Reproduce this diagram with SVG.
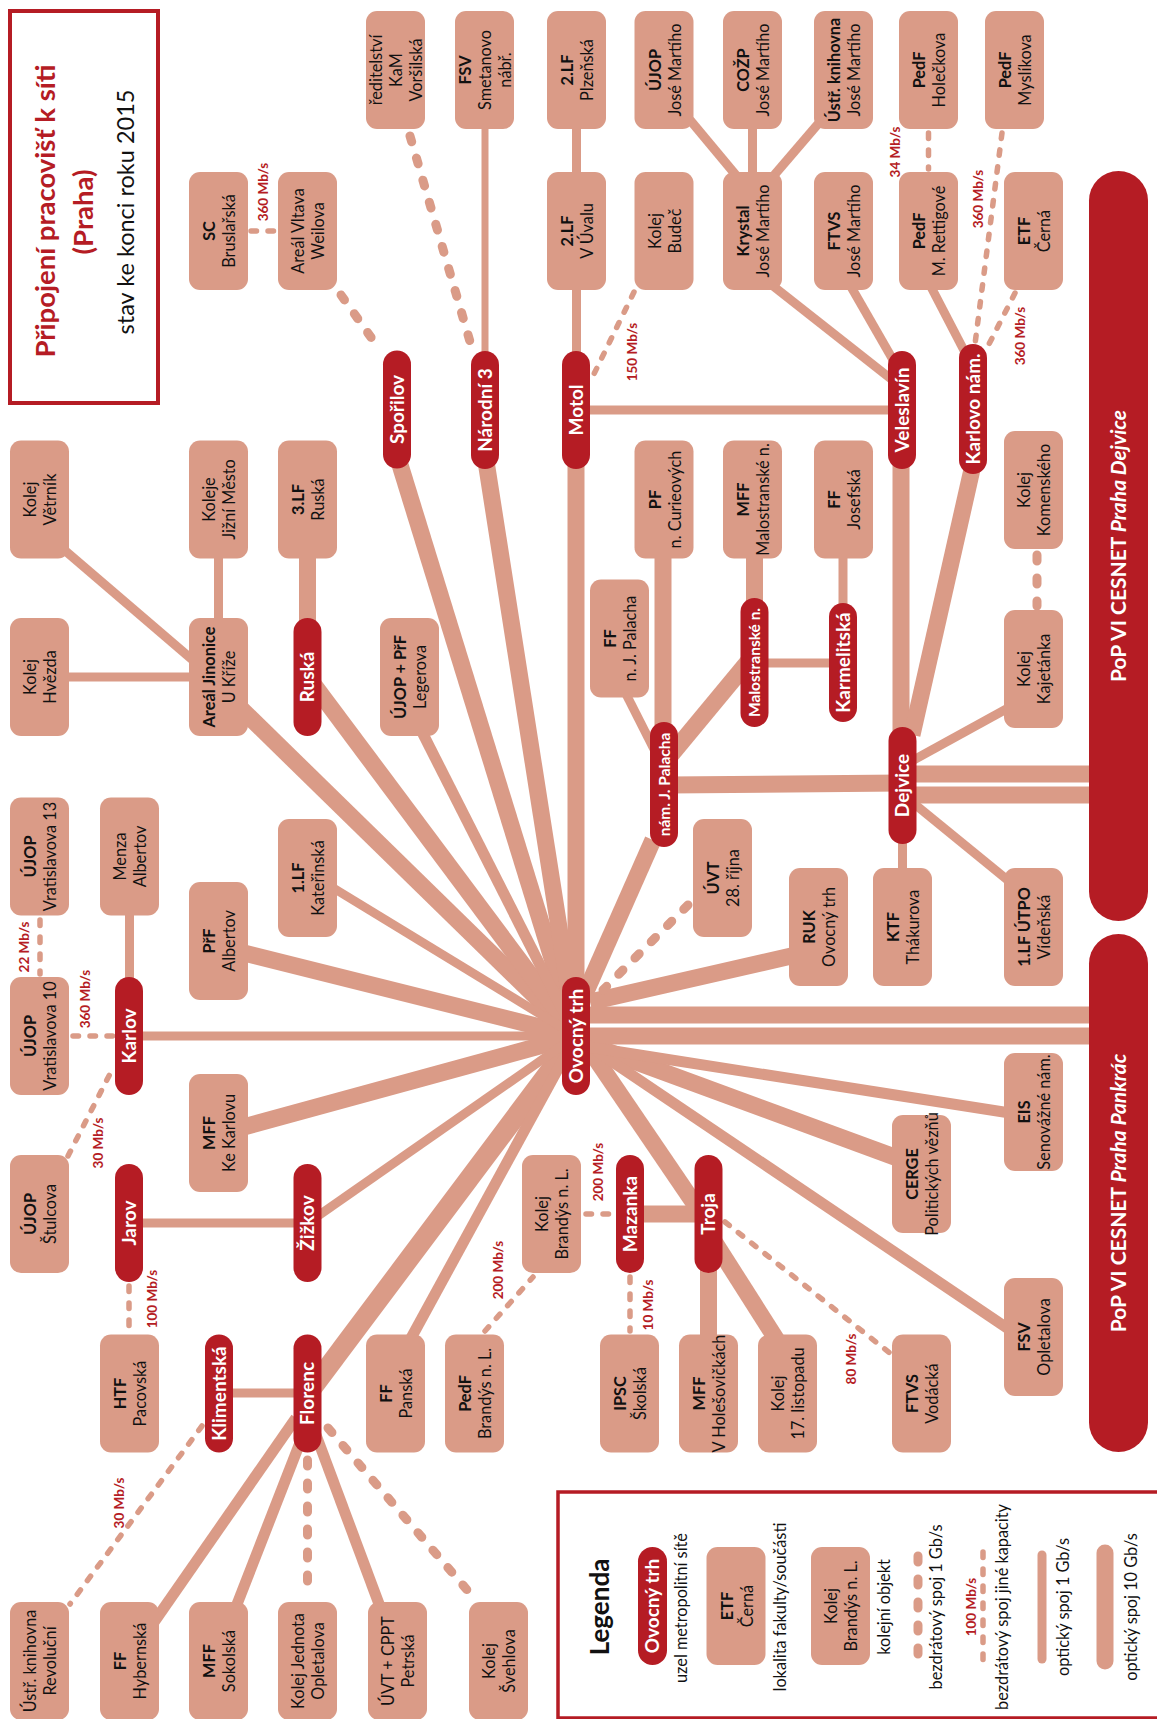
<svg xmlns="http://www.w3.org/2000/svg" width="1157" height="1719" viewBox="0 0 1157 1719">
<style>
.box{fill:#DA9B87}
.pill{fill:#B51C24}
text{font-family:Lato,"Liberation Sans","Noto Sans",sans-serif}
.t{font-size:16.3px;fill:#111;text-anchor:middle}
.b{font-weight:700}
.pt{font-size:19px;font-weight:700;fill:#fff;text-anchor:middle}
.ps{font-size:15.5px}
.lb{font-size:13.5px;font-weight:700;fill:#B51C24;text-anchor:middle}
.lt{font-size:16.3px;fill:#111;text-anchor:middle}
.c line{stroke:#DA9B87;fill:none}
.s0{stroke-width:7}
.s1{stroke-width:9}
.s2{stroke-width:11}
.s3{stroke-width:17}
.s4{stroke-width:20}
.d1{stroke-width:9;stroke-dasharray:6 17;stroke-linecap:round}
.d2{stroke-width:5.5;stroke-dasharray:5.5 11.5;stroke-linecap:round}
</style>
<rect width="1157" height="1719" fill="#fff"/>

<g id="title">
<rect x="10" y="11" width="148" height="392" fill="none" stroke="#B51C24" stroke-width="4"/>
<text transform="translate(55,211) rotate(-90)" style="font-size:27.5px;font-weight:700;fill:#B51C24;text-anchor:middle">Připojení pracovišť k síti</text>
<text transform="translate(93,212) rotate(-90)" style="font-size:27.5px;font-weight:700;fill:#B51C24;text-anchor:middle">(Praha)</text>
<text transform="translate(134,212) rotate(-90)" style="font-size:23.5px;fill:#111;text-anchor:middle">stav ke konci roku 2015</text>
</g>

<g id="connectors" class="c">
<g class="s3">
<line x1="397" y1="455" x2="576" y2="1036"/>
<line x1="485" y1="455" x2="576" y2="1036"/>
<line x1="576" y1="455" x2="576" y2="1036"/>
<line x1="230" y1="698" x2="576" y2="1036"/>
<line x1="314" y1="685" x2="576" y2="1036"/>
<line x1="240" y1="952" x2="576" y2="1036"/>
<line x1="240" y1="1128" x2="576" y2="1036"/>
<line x1="653" y1="840" x2="576" y2="1014"/>
<line x1="590" y1="1002" x2="800" y2="954"/>
<line x1="590" y1="1045" x2="900" y2="1159"/>
<line x1="583" y1="1040" x2="700" y2="1212"/>
<line x1="585" y1="1015" x2="1100" y2="1015"/>
<line x1="585" y1="1036" x2="1100" y2="1036"/>
<line x1="307.5" y1="555" x2="307.5" y2="622"/>
<line x1="663" y1="555" x2="663" y2="726"/>
<line x1="754.5" y1="555" x2="754.5" y2="602"/>
<line x1="752" y1="657" x2="670" y2="756"/>
<line x1="668" y1="785" x2="902" y2="783"/>
<line x1="902" y1="774" x2="1100" y2="774"/>
<line x1="902" y1="795" x2="1100" y2="795"/>
<line x1="901" y1="460" x2="901" y2="735"/>
<line x1="973" y1="465" x2="912" y2="735"/>
<line x1="630" y1="1214" x2="708" y2="1214"/>
<line x1="708.5" y1="1265" x2="708.5" y2="1340"/>
<line x1="710" y1="1235" x2="780" y2="1345"/>
</g>
<line class="s4" x1="310" y1="1391" x2="576" y2="1036"/>
<g class="s1">
<line x1="62" y1="548" x2="195" y2="662"/>
<line x1="218.5" y1="555" x2="218.5" y2="622"/>
<line x1="65" y1="677" x2="195" y2="677"/>
<line x1="576.5" y1="125" x2="576.5" y2="176"/>
<line x1="576.5" y1="286" x2="576.5" y2="355"/>
<line x1="580" y1="410" x2="900" y2="410"/>
<line x1="690" y1="120" x2="740" y2="180"/>
<line x1="752.5" y1="125" x2="752.5" y2="176"/>
<line x1="818" y1="124" x2="770" y2="180"/>
<line x1="768" y1="282" x2="900" y2="386"/>
<line x1="850" y1="285" x2="900" y2="372"/>
<line x1="930" y1="285" x2="970" y2="362"/>
<line x1="330" y1="886" x2="576" y2="1036"/>
<line x1="135" y1="1036" x2="576" y2="1036"/>
<line x1="315" y1="1218" x2="576" y2="1036"/>
<line x1="129.5" y1="912" x2="129.5" y2="981"/>
<line x1="129" y1="1223" x2="307" y2="1223"/>
<line x1="219" y1="1393" x2="307" y2="1393"/>
<line x1="625" y1="692" x2="662" y2="765"/>
<line x1="843" y1="555" x2="843" y2="607"/>
<line x1="754" y1="663" x2="843" y2="663"/>
<line x1="910" y1="762" x2="1010" y2="707"/>
<line x1="902.5" y1="840" x2="902.5" y2="872"/>
<line x1="912" y1="802" x2="1010" y2="882"/>
</g>
<line class="s0" x1="485" y1="125" x2="485" y2="355"/>
<g class="s2">
<line x1="420" y1="728" x2="576" y2="1036"/>
<line x1="410" y1="1340" x2="576" y2="1036"/>
<line x1="580" y1="1040" x2="1010" y2="1330"/>
<line x1="576" y1="1045" x2="1010" y2="1113"/>
<line x1="296" y1="1418" x2="152" y2="1625"/>
<line x1="303" y1="1435" x2="234" y2="1612"/>
<line x1="316" y1="1435" x2="382" y2="1612"/>
</g>
<g class="d1">
<line x1="410" y1="136" x2="471" y2="345"/>
<line x1="341" y1="295" x2="380" y2="350"/>
<line x1="688" y1="905" x2="603" y2="990"/>
<line x1="1037" y1="555" x2="1037" y2="606"/>
<line x1="307.5" y1="1460" x2="307.5" y2="1598"/>
<line x1="328" y1="1428" x2="474" y2="1598"/>
</g>
<g class="d2">
<line x1="251" y1="231" x2="276" y2="231"/>
<line x1="634" y1="292" x2="592" y2="378"/>
<line x1="928.5" y1="133" x2="928.5" y2="169"/>
<line x1="1002" y1="133" x2="975" y2="344"/>
<line x1="1015" y1="293" x2="986" y2="350"/>
<line x1="40" y1="920" x2="40" y2="974"/>
<line x1="73" y1="1036" x2="113" y2="1036"/>
<line x1="68" y1="1156" x2="113" y2="1068"/>
<line x1="129" y1="1286" x2="129" y2="1331"/>
<line x1="485" y1="1331" x2="533" y2="1277"/>
<line x1="586" y1="1214" x2="614" y2="1214"/>
<line x1="630" y1="1277" x2="630" y2="1331"/>
<line x1="725" y1="1222" x2="891" y2="1354"/>
<line x1="202" y1="1426" x2="70" y2="1604"/>
</g>
</g>

<g id="labels">
<text class="lb" transform="translate(267.5,192) rotate(-90)">360 Mb/s</text>
<text class="lb" transform="translate(637,352) rotate(-90)">150 Mb/s</text>
<text class="lb" transform="translate(900,152) rotate(-90)">34 Mb/s</text>
<text class="lb" transform="translate(983,199) rotate(-90)">360 Mb/s</text>
<text class="lb" transform="translate(1025,336) rotate(-90)">360 Mb/s</text>
<text class="lb" transform="translate(29,947) rotate(-90)">22 Mb/s</text>
<text class="lb" transform="translate(90,999) rotate(-90)">360 Mb/s</text>
<text class="lb" transform="translate(103,1143) rotate(-90)">30 Mb/s</text>
<text class="lb" transform="translate(157,1299) rotate(-90)">100 Mb/s</text>
<text class="lb" transform="translate(503,1270) rotate(-90)">200 Mb/s</text>
<text class="lb" transform="translate(603,1172) rotate(-90)">200 Mb/s</text>
<text class="lb" transform="translate(653,1305) rotate(-90)">10 Mb/s</text>
<text class="lb" transform="translate(856,1359) rotate(-90)">80 Mb/s</text>
<text class="lb" transform="translate(124,1503) rotate(-90)">30 Mb/s</text>
</g>

<g id="pops">
<g id="pop-dejvice"><rect class="pill" x="1089" y="171" width="59" height="750" rx="29.5"/><text class="pt" style="font-size:21px" transform="translate(1126,546) rotate(-90)">PoP VI CESNET <tspan font-style="italic">Praha Dejvice</tspan></text></g>
<g id="pop-pankrac"><rect class="pill" x="1089" y="934" width="59" height="518" rx="29.5"/><text class="pt" style="font-size:21px" transform="translate(1126,1193) rotate(-90)">PoP VI CESNET <tspan font-style="italic">Praha Pankrác</tspan></text></g>
</g>

<g id="pills">
<g id="p-sporilov" transform="translate(397,409.5)"><rect class="pill" x="-14" y="-59" width="28" height="118" rx="14"/><text class="pt" transform="rotate(-90)" y="6.5">Spořilov</text></g>
<g id="p-narodni" transform="translate(485,410)"><rect class="pill" x="-14" y="-59" width="28" height="118" rx="14"/><text class="pt" transform="rotate(-90)" y="6.5">Národní 3</text></g>
<g id="p-motol" transform="translate(576,410)"><rect class="pill" x="-14" y="-59" width="28" height="118" rx="14"/><text class="pt" transform="rotate(-90)" y="6.5">Motol</text></g>
<g id="p-veleslavin" transform="translate(902,410)"><rect class="pill" x="-14" y="-59" width="28" height="118" rx="14"/><text class="pt" transform="rotate(-90)" y="6.5">Veleslavín</text></g>
<g id="p-karlovo" transform="translate(973,409)"><rect class="pill" x="-14" y="-65" width="28" height="130" rx="14"/><text class="pt" transform="rotate(-90)" y="6.5">Karlovo nám.</text></g>
<g id="p-malostranske" transform="translate(754.5,662.5)"><rect class="pill" x="-14" y="-64.5" width="28" height="129" rx="14"/><text class="pt ps" transform="rotate(-90)" y="5.5">Malostranské n.</text></g>
<g id="p-karmelitska" transform="translate(843,662.5)"><rect class="pill" x="-14" y="-59.5" width="28" height="119" rx="14"/><text class="pt" transform="rotate(-90)" y="6.5">Karmelitská</text></g>
<g id="p-ruska" transform="translate(307.5,677)"><rect class="pill" x="-14" y="-59" width="28" height="118" rx="14"/><text class="pt" transform="rotate(-90)" y="6.5">Ruská</text></g>
<g id="p-palacha" transform="translate(664,784.5)"><rect class="pill" x="-14" y="-62.5" width="28" height="125" rx="14"/><text class="pt ps" transform="rotate(-90)" y="5.5">nám. J. Palacha</text></g>
<g id="p-dejvice" transform="translate(902.5,785.5)"><rect class="pill" x="-14" y="-58.5" width="28" height="117" rx="14"/><text class="pt" transform="rotate(-90)" y="6.5">Dejvice</text></g>
<g id="p-karlov" transform="translate(129,1036)"><rect class="pill" x="-14" y="-59" width="28" height="118" rx="14"/><text class="pt" transform="rotate(-90)" y="6.5">Karlov</text></g>
<g id="p-ovocny" transform="translate(576,1036)"><rect class="pill" x="-14" y="-59" width="28" height="118" rx="14"/><text class="pt" transform="rotate(-90)" y="6.5">Ovocný trh</text></g>
<g id="p-jarov" transform="translate(129,1223)"><rect class="pill" x="-14" y="-59" width="28" height="118" rx="14"/><text class="pt" transform="rotate(-90)" y="6.5">Jarov</text></g>
<g id="p-zizkov" transform="translate(307.5,1223)"><rect class="pill" x="-14" y="-59" width="28" height="118" rx="14"/><text class="pt" transform="rotate(-90)" y="6.5">Žižkov</text></g>
<g id="p-mazanka" transform="translate(630,1214)"><rect class="pill" x="-14" y="-59" width="28" height="118" rx="14"/><text class="pt" transform="rotate(-90)" y="6.5">Mazanka</text></g>
<g id="p-troja" transform="translate(708.5,1214)"><rect class="pill" x="-14" y="-59" width="28" height="118" rx="14"/><text class="pt" transform="rotate(-90)" y="6.5">Troja</text></g>
<g id="p-klimentska" transform="translate(219,1393.5)"><rect class="pill" x="-14" y="-59" width="28" height="118" rx="14"/><text class="pt" transform="rotate(-90)" y="6.5">Klimentská</text></g>
<g id="p-florenc" transform="translate(307.5,1393.5)"><rect class="pill" x="-14" y="-59" width="28" height="118" rx="14"/><text class="pt" transform="rotate(-90)" y="6.5">Florenc</text></g>
</g>

<g id="boxes">
<g id="n-reditelstvi" transform="translate(395.5,70)"><rect class="box" x="-29.5" y="-59" width="59" height="118" rx="11"/><text class="t" transform="rotate(-90)"><tspan x="0" y="-14">ředitelství</tspan><tspan x="0" y="6">KaM</tspan><tspan x="0" y="26">Voršilská</tspan></text></g>
<g id="n-fsv-smetanovo" transform="translate(484.5,70)"><rect class="box" x="-29.5" y="-59" width="59" height="118" rx="11"/><text class="t" transform="rotate(-90)"><tspan class="b" x="0" y="-14">FSV</tspan><tspan x="0" y="6">Smetanovo</tspan><tspan x="0" y="26">nábř.</tspan></text></g>
<g id="n-2lf-plzenska" transform="translate(576.5,70)"><rect class="box" x="-29.5" y="-59" width="59" height="118" rx="11"/><text class="t" transform="rotate(-90)"><tspan class="b" x="0" y="-3.5">2.LF</tspan><tspan x="0" y="16.5">Plzeňská</tspan></text></g>
<g id="n-ujop-jm" transform="translate(664,70)"><rect class="box" x="-29.5" y="-59" width="59" height="118" rx="11"/><text class="t" transform="rotate(-90)"><tspan class="b" x="0" y="-3.5">ÚJOP</tspan><tspan x="0" y="16.5">José Martího</tspan></text></g>
<g id="n-cozp" transform="translate(752.5,70)"><rect class="box" x="-29.5" y="-59" width="59" height="118" rx="11"/><text class="t" transform="rotate(-90)"><tspan class="b" x="0" y="-3.5">COŽP</tspan><tspan x="0" y="16.5">José Martího</tspan></text></g>
<g id="n-ustr-jm" transform="translate(843.5,70)"><rect class="box" x="-29.5" y="-59" width="59" height="118" rx="11"/><text class="t" transform="rotate(-90)"><tspan class="b" x="0" y="-3.5">Ústř. knihovna</tspan><tspan x="0" y="16.5">José Martího</tspan></text></g>
<g id="n-pedf-holeckova" transform="translate(928.5,70)"><rect class="box" x="-29.5" y="-59" width="59" height="118" rx="11"/><text class="t" transform="rotate(-90)"><tspan class="b" x="0" y="-3.5">PedF</tspan><tspan x="0" y="16.5">Holečkova</tspan></text></g>
<g id="n-pedf-myslikova" transform="translate(1014.5,70)"><rect class="box" x="-29.5" y="-59" width="59" height="118" rx="11"/><text class="t" transform="rotate(-90)"><tspan class="b" x="0" y="-3.5">PedF</tspan><tspan x="0" y="16.5">Myslíkova</tspan></text></g>
<g id="n-sc" transform="translate(218.5,231)"><rect class="box" x="-29.5" y="-59" width="59" height="118" rx="11"/><text class="t" transform="rotate(-90)"><tspan class="b" x="0" y="-3.5">SC</tspan><tspan x="0" y="16.5">Bruslařská</tspan></text></g>
<g id="n-areal-vltava" transform="translate(307.5,231)"><rect class="box" x="-29.5" y="-59" width="59" height="118" rx="11"/><text class="t" transform="rotate(-90)"><tspan x="0" y="-3.5">Areál Vltava</tspan><tspan x="0" y="16.5">Weilova</tspan></text></g>
<g id="n-2lf-uvalu" transform="translate(576.5,231)"><rect class="box" x="-29.5" y="-59" width="59" height="118" rx="11"/><text class="t" transform="rotate(-90)"><tspan class="b" x="0" y="-3.5">2.LF</tspan><tspan x="0" y="16.5">V Úvalu</tspan></text></g>
<g id="n-kolej-budec" transform="translate(664,231)"><rect class="box" x="-29.5" y="-59" width="59" height="118" rx="11"/><text class="t" transform="rotate(-90)"><tspan x="0" y="-3.5">Kolej</tspan><tspan x="0" y="16.5">Budeč</tspan></text></g>
<g id="n-krystal" transform="translate(752.5,231)"><rect class="box" x="-29.5" y="-59" width="59" height="118" rx="11"/><text class="t" transform="rotate(-90)"><tspan class="b" x="0" y="-3.5">Krystal</tspan><tspan x="0" y="16.5">José Martího</tspan></text></g>
<g id="n-ftvs-jm" transform="translate(843.5,231)"><rect class="box" x="-29.5" y="-59" width="59" height="118" rx="11"/><text class="t" transform="rotate(-90)"><tspan class="b" x="0" y="-3.5">FTVS</tspan><tspan x="0" y="16.5">José Martího</tspan></text></g>
<g id="n-pedf-rettigove" transform="translate(928.5,231)"><rect class="box" x="-29.5" y="-59" width="59" height="118" rx="11"/><text class="t" transform="rotate(-90)"><tspan class="b" x="0" y="-3.5">PedF</tspan><tspan x="0" y="16.5">M. Rettigové</tspan></text></g>
<g id="n-etf" transform="translate(1033.5,231)"><rect class="box" x="-29.5" y="-59" width="59" height="118" rx="11"/><text class="t" transform="rotate(-90)"><tspan class="b" x="0" y="-3.5">ETF</tspan><tspan x="0" y="16.5">Černá</tspan></text></g>
<g id="n-kolej-vetrnik" transform="translate(39.5,499.5)"><rect class="box" x="-29.5" y="-59" width="59" height="118" rx="11"/><text class="t" transform="rotate(-90)"><tspan x="0" y="-3.5">Kolej</tspan><tspan x="0" y="16.5">Větrník</tspan></text></g>
<g id="n-koleje-jm" transform="translate(218.5,499.5)"><rect class="box" x="-29.5" y="-59" width="59" height="118" rx="11"/><text class="t" transform="rotate(-90)"><tspan x="0" y="-3.5">Koleje</tspan><tspan x="0" y="16.5">Jižní Město</tspan></text></g>
<g id="n-3lf" transform="translate(307.5,499.5)"><rect class="box" x="-29.5" y="-59" width="59" height="118" rx="11"/><text class="t" transform="rotate(-90)"><tspan class="b" x="0" y="-3.5">3.LF</tspan><tspan x="0" y="16.5">Ruská</tspan></text></g>
<g id="n-pf" transform="translate(664,499.5)"><rect class="box" x="-29.5" y="-59" width="59" height="118" rx="11"/><text class="t" transform="rotate(-90)"><tspan class="b" x="0" y="-3.5">PF</tspan><tspan x="0" y="16.5">n. Curieových</tspan></text></g>
<g id="n-mff-malostr" transform="translate(752.5,499.5)"><rect class="box" x="-29.5" y="-59" width="59" height="118" rx="11"/><text class="t" transform="rotate(-90)"><tspan class="b" x="0" y="-3.5">MFF</tspan><tspan x="0" y="16.5">Malostranské n.</tspan></text></g>
<g id="n-ff-josefska" transform="translate(843.5,499.5)"><rect class="box" x="-29.5" y="-59" width="59" height="118" rx="11"/><text class="t" transform="rotate(-90)"><tspan class="b" x="0" y="-3.5">FF</tspan><tspan x="0" y="16.5">Josefská</tspan></text></g>
<g id="n-kolej-komenskeho" transform="translate(1033.5,490)"><rect class="box" x="-29.5" y="-59" width="59" height="118" rx="11"/><text class="t" transform="rotate(-90)"><tspan x="0" y="-3.5">Kolej</tspan><tspan x="0" y="16.5">Komenského</tspan></text></g>
<g id="n-ff-palacha" transform="translate(619.5,638.5)"><rect class="box" x="-29.5" y="-59" width="59" height="118" rx="11"/><text class="t" transform="rotate(-90)"><tspan class="b" x="0" y="-3.5">FF</tspan><tspan x="0" y="16.5">n. J. Palacha</tspan></text></g>
<g id="n-kolej-kajetanka" transform="translate(1033.5,669)"><rect class="box" x="-29.5" y="-59" width="59" height="118" rx="11"/><text class="t" transform="rotate(-90)"><tspan x="0" y="-3.5">Kolej</tspan><tspan x="0" y="16.5">Kajetánka</tspan></text></g>
<g id="n-kolej-hvezda" transform="translate(39.5,677)"><rect class="box" x="-29.5" y="-59" width="59" height="118" rx="11"/><text class="t" transform="rotate(-90)"><tspan x="0" y="-3.5">Kolej</tspan><tspan x="0" y="16.5">Hvězda</tspan></text></g>
<g id="n-areal-jinonice" transform="translate(218.5,677)"><rect class="box" x="-29.5" y="-59" width="59" height="118" rx="11"/><text class="t" transform="rotate(-90)"><tspan class="b" x="0" y="-3.5">Areál Jinonice</tspan><tspan x="0" y="16.5">U Kříže</tspan></text></g>
<g id="n-ujop-legerova" transform="translate(409.5,677)"><rect class="box" x="-29.5" y="-59" width="59" height="118" rx="11"/><text class="t" transform="rotate(-90)"><tspan class="b" x="0" y="-3.5">ÚJOP + PřF</tspan><tspan x="0" y="16.5">Legerova</tspan></text></g>
<g id="n-ujop-v13" transform="translate(39.5,856.5)"><rect class="box" x="-29.5" y="-59" width="59" height="118" rx="11"/><text class="t" transform="rotate(-90)"><tspan class="b" x="0" y="-3.5">ÚJOP</tspan><tspan x="0" y="16.5">Vratislavova 13</tspan></text></g>
<g id="n-menza" transform="translate(129.5,856.5)"><rect class="box" x="-29.5" y="-59" width="59" height="118" rx="11"/><text class="t" transform="rotate(-90)"><tspan x="0" y="-3.5">Menza</tspan><tspan x="0" y="16.5">Albertov</tspan></text></g>
<g id="n-1lf-katerinska" transform="translate(307.5,878)"><rect class="box" x="-29.5" y="-59" width="59" height="118" rx="11"/><text class="t" transform="rotate(-90)"><tspan class="b" x="0" y="-3.5">1.LF</tspan><tspan x="0" y="16.5">Kateřinská</tspan></text></g>
<g id="n-uvt-28" transform="translate(722.5,878)"><rect class="box" x="-29.5" y="-59" width="59" height="118" rx="11"/><text class="t" transform="rotate(-90)"><tspan class="b" x="0" y="-3.5">ÚVT</tspan><tspan x="0" y="16.5">28. října</tspan></text></g>
<g id="n-prf-albertov" transform="translate(218.5,941)"><rect class="box" x="-29.5" y="-59" width="59" height="118" rx="11"/><text class="t" transform="rotate(-90)"><tspan class="b" x="0" y="-3.5">PřF</tspan><tspan x="0" y="16.5">Albertov</tspan></text></g>
<g id="n-ruk" transform="translate(818.5,927)"><rect class="box" x="-29.5" y="-59" width="59" height="118" rx="11"/><text class="t" transform="rotate(-90)"><tspan class="b" x="0" y="-3.5">RUK</tspan><tspan x="0" y="16.5">Ovocný trh</tspan></text></g>
<g id="n-ktf" transform="translate(902.5,927)"><rect class="box" x="-29.5" y="-59" width="59" height="118" rx="11"/><text class="t" transform="rotate(-90)"><tspan class="b" x="0" y="-3.5">KTF</tspan><tspan x="0" y="16.5">Thákurova</tspan></text></g>
<g id="n-1lf-utpo" transform="translate(1033.5,927)"><rect class="box" x="-29.5" y="-59" width="59" height="118" rx="11"/><text class="t" transform="rotate(-90)"><tspan class="b" x="0" y="-3.5">1.LF ÚTPO</tspan><tspan x="0" y="16.5">Vídeňská</tspan></text></g>
<g id="n-ujop-v10" transform="translate(39.5,1036)"><rect class="box" x="-29.5" y="-59" width="59" height="118" rx="11"/><text class="t" transform="rotate(-90)"><tspan class="b" x="0" y="-3.5">ÚJOP</tspan><tspan x="0" y="16.5">Vratislavova 10</tspan></text></g>
<g id="n-mff-karlovu" transform="translate(218.5,1133)"><rect class="box" x="-29.5" y="-59" width="59" height="118" rx="11"/><text class="t" transform="rotate(-90)"><tspan class="b" x="0" y="-3.5">MFF</tspan><tspan x="0" y="16.5">Ke Karlovu</tspan></text></g>
<g id="n-eis" transform="translate(1033.5,1112)"><rect class="box" x="-29.5" y="-59" width="59" height="118" rx="11"/><text class="t" transform="rotate(-90)"><tspan class="b" x="0" y="-3.5">EIS</tspan><tspan x="0" y="16.5">Senovážné nám.</tspan></text></g>
<g id="n-cerge" transform="translate(921.5,1174)"><rect class="box" x="-29.5" y="-59" width="59" height="118" rx="11"/><text class="t" transform="rotate(-90)"><tspan class="b" x="0" y="-3.5">CERGE</tspan><tspan x="0" y="16.5">Politických vězňů</tspan></text></g>
<g id="n-ujop-stulcova" transform="translate(39.5,1214)"><rect class="box" x="-29.5" y="-59" width="59" height="118" rx="11"/><text class="t" transform="rotate(-90)"><tspan class="b" x="0" y="-3.5">ÚJOP</tspan><tspan x="0" y="16.5">Štulcova</tspan></text></g>
<g id="n-kolej-brandys" transform="translate(551.5,1214)"><rect class="box" x="-29.5" y="-59" width="59" height="118" rx="11"/><text class="t" transform="rotate(-90)"><tspan x="0" y="-3.5">Kolej</tspan><tspan x="0" y="16.5">Brandýs n. L.</tspan></text></g>
<g id="n-fsv-opletalova" transform="translate(1033.5,1337)"><rect class="box" x="-29.5" y="-59" width="59" height="118" rx="11"/><text class="t" transform="rotate(-90)"><tspan class="b" x="0" y="-3.5">FSV</tspan><tspan x="0" y="16.5">Opletalova</tspan></text></g>
<g id="n-htf" transform="translate(129.5,1393.5)"><rect class="box" x="-29.5" y="-59" width="59" height="118" rx="11"/><text class="t" transform="rotate(-90)"><tspan class="b" x="0" y="-3.5">HTF</tspan><tspan x="0" y="16.5">Pacovská</tspan></text></g>
<g id="n-ff-panska" transform="translate(395.5,1393.5)"><rect class="box" x="-29.5" y="-59" width="59" height="118" rx="11"/><text class="t" transform="rotate(-90)"><tspan class="b" x="0" y="-3.5">FF</tspan><tspan x="0" y="16.5">Panská</tspan></text></g>
<g id="n-pedf-brandys" transform="translate(474.5,1393.5)"><rect class="box" x="-29.5" y="-59" width="59" height="118" rx="11"/><text class="t" transform="rotate(-90)"><tspan class="b" x="0" y="-3.5">PedF</tspan><tspan x="0" y="16.5">Brandýs n. L.</tspan></text></g>
<g id="n-ipsc" transform="translate(629.5,1393.5)"><rect class="box" x="-29.5" y="-59" width="59" height="118" rx="11"/><text class="t" transform="rotate(-90)"><tspan class="b" x="0" y="-3.5">IPSC</tspan><tspan x="0" y="16.5">Školská</tspan></text></g>
<g id="n-mff-holesovicky" transform="translate(708.5,1393.5)"><rect class="box" x="-29.5" y="-59" width="59" height="118" rx="11"/><text class="t" transform="rotate(-90)"><tspan class="b" x="0" y="-3.5">MFF</tspan><tspan x="0" y="16.5">V Holešovičkách</tspan></text></g>
<g id="n-kolej-17" transform="translate(787.5,1393.5)"><rect class="box" x="-29.5" y="-59" width="59" height="118" rx="11"/><text class="t" transform="rotate(-90)"><tspan x="0" y="-3.5">Kolej</tspan><tspan x="0" y="16.5">17. listopadu</tspan></text></g>
<g id="n-ftvs-vodacka" transform="translate(921.5,1393.5)"><rect class="box" x="-29.5" y="-59" width="59" height="118" rx="11"/><text class="t" transform="rotate(-90)"><tspan class="b" x="0" y="-3.5">FTVS</tspan><tspan x="0" y="16.5">Vodácká</tspan></text></g>
<g id="n-ustr-revolucni" transform="translate(39.5,1661)"><rect class="box" x="-29.5" y="-59" width="59" height="118" rx="11"/><text class="t" transform="rotate(-90)"><tspan x="0" y="-3.5">Ústř. knihovna</tspan><tspan x="0" y="16.5">Revoluční</tspan></text></g>
<g id="n-ff-hybernska" transform="translate(129.5,1661)"><rect class="box" x="-29.5" y="-59" width="59" height="118" rx="11"/><text class="t" transform="rotate(-90)"><tspan class="b" x="0" y="-3.5">FF</tspan><tspan x="0" y="16.5">Hybernská</tspan></text></g>
<g id="n-mff-sokolska" transform="translate(218.5,1661)"><rect class="box" x="-29.5" y="-59" width="59" height="118" rx="11"/><text class="t" transform="rotate(-90)"><tspan class="b" x="0" y="-3.5">MFF</tspan><tspan x="0" y="16.5">Sokolská</tspan></text></g>
<g id="n-kolej-jednota" transform="translate(307.5,1661)"><rect class="box" x="-29.5" y="-59" width="59" height="118" rx="11"/><text class="t" transform="rotate(-90)"><tspan x="0" y="-3.5">Kolej Jednota</tspan><tspan x="0" y="16.5">Opletalova</tspan></text></g>
<g id="n-uvt-petrska" transform="translate(397.5,1661)"><rect class="box" x="-29.5" y="-59" width="59" height="118" rx="11"/><text class="t" transform="rotate(-90)"><tspan x="0" y="-3.5">ÚVT + CPPT</tspan><tspan x="0" y="16.5">Petrská</tspan></text></g>
<g id="n-kolej-svehlova" transform="translate(498.5,1661)"><rect class="box" x="-29.5" y="-59" width="59" height="118" rx="11"/><text class="t" transform="rotate(-90)"><tspan x="0" y="-3.5">Kolej</tspan><tspan x="0" y="16.5">Švehlova</tspan></text></g>
</g>

<g id="legend">
<rect x="558" y="1492" width="620" height="226" fill="#fff" stroke="#B51C24" stroke-width="3.5"/>
<text transform="translate(609,1607) rotate(-90)" style="font-size:26px;font-weight:700;fill:#111;text-anchor:middle">Legenda</text>
<g transform="translate(652.5,1606)"><rect class="pill" x="-14.5" y="-59" width="29" height="118" rx="14.5"/><text class="pt" transform="rotate(-90)" y="6.5">Ovocný trh</text></g>
<text class="lt" transform="translate(687,1608) rotate(-90)">uzel metropolitní sítě</text>
<g transform="translate(736,1606)"><rect class="box" x="-29.5" y="-59" width="59" height="118" rx="11"/><text class="t" transform="rotate(-90)"><tspan class="b" x="0" y="-3.5">ETF</tspan><tspan x="0" y="16.5">Černá</tspan></text></g>
<text class="lt" transform="translate(786,1607) rotate(-90)">lokalita fakulty/součásti</text>
<g transform="translate(840.5,1606)"><rect class="box" x="-29.5" y="-59" width="59" height="118" rx="11"/><text class="t" transform="rotate(-90)"><tspan x="0" y="-3.5">Kolej</tspan><tspan x="0" y="16.5">Brandýs n. L.</tspan></text></g>
<text class="lt" transform="translate(890,1607) rotate(-90)">kolejní objekt</text>
<g class="c"><line class="d1" x1="918" y1="1556" x2="918" y2="1662"/><line class="d2" x1="983" y1="1552" x2="983" y2="1663"/><line class="s1" x1="1042" y1="1555" x2="1042" y2="1659" style="stroke-linecap:round"/><line class="s3" x1="1105" y1="1553" x2="1105" y2="1661" style="stroke-linecap:round"/></g>
<text class="lt" transform="translate(942,1607) rotate(-90)">bezdrátový spoj 1 Gb/s</text>
<text class="lb" transform="translate(976,1607) rotate(-90)">100 Mb/s</text>
<text class="lt" transform="translate(1008,1607) rotate(-90)">bezdrátový spoj jiné kapacity</text>
<text class="lt" transform="translate(1069,1607) rotate(-90)">optický spoj 1 Gb/s</text>
<text class="lt" transform="translate(1137,1607) rotate(-90)">optický spoj 10 Gb/s</text>
</g>
</svg>
